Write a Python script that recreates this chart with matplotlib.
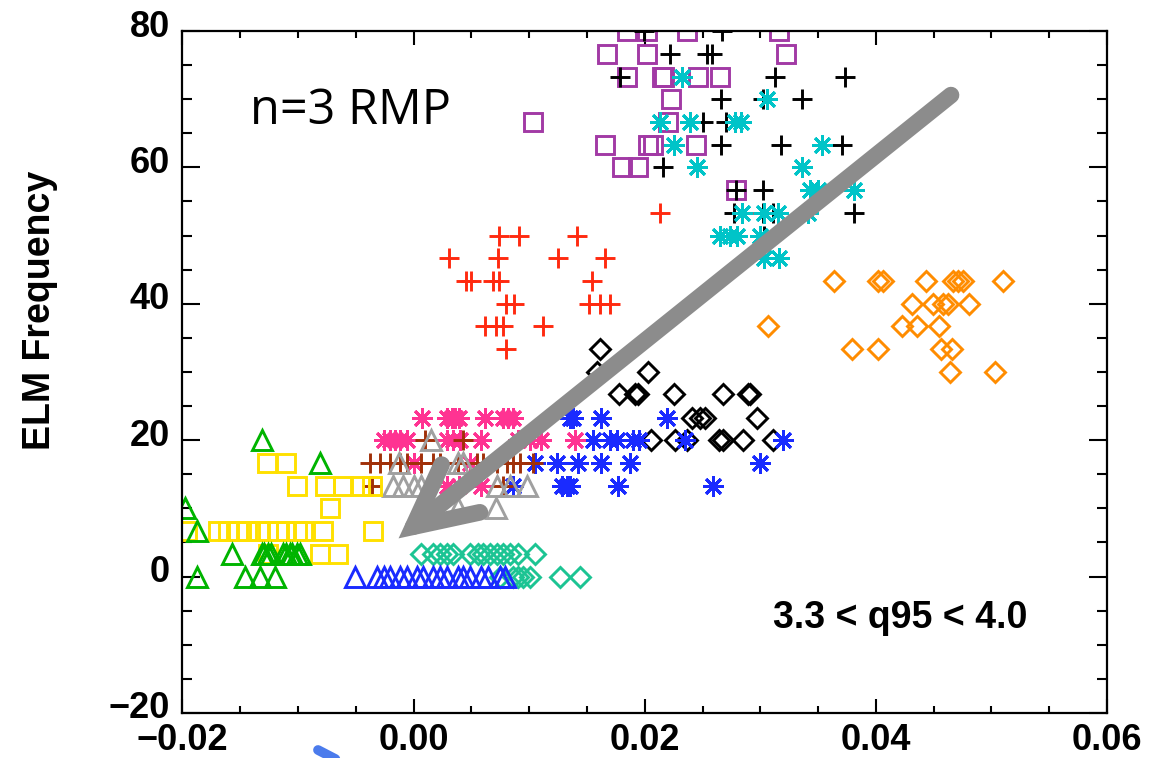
#!/usr/bin/env python3
"""
ELM frequency vs. scan parameter scatter, n=3 RMP, 3.3 < q95 < 4.0
"""

import matplotlib
matplotlib.use('Agg')
import matplotlib.pyplot as plt
import matplotlib.transforms as mtransforms
from matplotlib.lines import Line2D
from matplotlib.ticker import MultipleLocator

plt.rcParams['font.family'] = ['Liberation Sans', 'DejaVu Sans']
plt.rcParams['font.weight'] = 'bold'

# --- data ---
purple_sq_x = [0.0185, 0.0202, 0.0237, 0.0316, 0.0167, 0.0202, 0.0322, 0.0185, 0.0215, 0.0217,
               0.0246, 0.0265, 0.0223, 0.0103, 0.0220, 0.0166, 0.0203, 0.0207, 0.0244, 0.0180,
               0.0194, 0.0279]
purple_sq_y = [80, 80, 80, 80, 76.7, 76.7, 76.7, 73.3, 73.3, 73.3,
               73.3, 73.3, 70, 66.7, 66.7, 63.3, 63.3, 63.3, 63.3, 60,
               60, 56.7]

black_plus_x = [0.0199, 0.0267, 0.0222, 0.0254, 0.0258, 0.0179, 0.0313, 0.0373, 0.0266, 0.0302,
                0.0336, 0.0250, 0.0270, 0.0266, 0.0318, 0.0371, 0.0216, 0.0279, 0.0302, 0.0277,
                0.0302, 0.0311, 0.0381, 0.0303]
black_plus_y = [80, 80, 76.7, 76.7, 76.7, 73.3, 73.3, 73.3, 70, 70,
                70, 66.7, 66.7, 63.3, 63.3, 63.3, 60, 56.7, 56.7, 53.3,
                53.3, 53.3, 53.3, 50]

cyan_ast_x = [0.0232, 0.0306, 0.0213, 0.0239, 0.0278, 0.0283, 0.0225, 0.0353, 0.0245, 0.0336,
              0.0343, 0.0350, 0.0381, 0.0284, 0.0303, 0.0315, 0.0341, 0.0265, 0.0274, 0.0280,
              0.0300, 0.0303, 0.0316]
cyan_ast_y = [73.3, 70, 66.7, 66.7, 66.7, 66.7, 63.3, 63.3, 60, 60,
              56.7, 56.7, 56.7, 53.3, 53.3, 53.3, 53.3, 50, 50, 50,
              50, 46.7, 46.7]

red_plus_x = [0.0213, 0.0074, 0.0091, 0.0141, 0.0031, 0.0073, 0.0125, 0.0166, 0.0045, 0.0050,
              0.0069, 0.0074, 0.0154, 0.0080, 0.0087, 0.0152, 0.0161, 0.0170, 0.0062, 0.0071,
              0.0077, 0.0112, 0.0080]
red_plus_y = [53.3, 50, 50, 50, 46.7, 46.7, 46.7, 46.7, 43.3, 43.3,
              43.3, 43.3, 43.3, 40, 40, 40, 40, 40, 36.7, 36.7,
              36.7, 36.7, 33.3]

orange_dia_x = [0.0364, 0.0402, 0.0406, 0.0443, 0.0467, 0.0471, 0.0475, 0.0510, 0.0431, 0.0449,
                0.0458, 0.0462, 0.0481, 0.0307, 0.0423, 0.0436, 0.0455, 0.0379, 0.0402, 0.0456,
                0.0466, 0.0464, 0.0503]
orange_dia_y = [43.3, 43.3, 43.3, 43.3, 43.3, 43.3, 43.3, 43.3, 40, 40,
                40, 40, 40, 36.7, 36.7, 36.7, 36.7, 33.3, 33.3, 33.3,
                33.3, 30, 30]

black_dia_x = [0.0161, 0.0159, 0.0203, 0.0178, 0.0192, 0.0194, 0.0225, 0.0268, 0.0289, 0.0291,
               0.0241, 0.0248, 0.0252, 0.0297, 0.0205, 0.0226, 0.0237, 0.0264, 0.0268, 0.0285,
               0.0311]
black_dia_y = [33.3, 30, 30, 26.7, 26.7, 26.7, 26.7, 26.7, 26.7, 26.7,
               23.3, 23.3, 23.3, 23.3, 20, 20, 20, 20, 20, 20,
               20]

blue_ast_x = [0.0135, 0.0138, 0.0162, 0.0219, 0.0155, 0.0170, 0.0176, 0.0190, 0.0195, 0.0235,
              0.0320, 0.0105, 0.0124, 0.0142, 0.0162, 0.0187, 0.0300, 0.0086, 0.0128, 0.0133,
              0.0135, 0.0177, 0.0259]
blue_ast_y = [23.3, 23.3, 23.3, 23.3, 20, 20, 20, 20, 20, 20,
              20, 16.7, 16.7, 16.7, 16.7, 16.7, 16.7, 13.3, 13.3, 13.3,
              13.3, 13.3, 13.3]

pink_ast_x = [0.0007, 0.0029, 0.0033, 0.0036, 0.0039, 0.0062, 0.0077, 0.0082, 0.0086, -0.0026,
              -0.0020, -0.0016, -0.0012, -0.0006, 0.0029, 0.0034, 0.0040, 0.0058, 0.0090, 0.0101,
              0.0110, 0.0140, 0.0000, 0.0049, 0.0029, 0.0039, 0.0058]
pink_ast_y = [23.3, 23.3, 23.3, 23.3, 23.3, 23.3, 23.3, 23.3, 23.3, 20,
              20, 20, 20, 20, 20, 20, 20, 20, 20, 20,
              20, 20, 16.7, 16.7, 13.3, 13.3, 13.3]

brown_plus_x = [0.0010, 0.0043, -0.0038, -0.0029, -0.0020, -0.0012, -0.0006, 0.0006, 0.0017, 0.0023,
                0.0038, 0.0055, 0.0060, 0.0072, 0.0081, 0.0086, 0.0092, 0.0103, -0.0036, 0.0077]
brown_plus_y = [20, 20, 16.7, 16.7, 16.7, 16.7, 16.7, 16.7, 16.7, 16.7,
                16.7, 16.7, 16.7, 16.7, 16.7, 16.7, 16.7, 16.7, 13.3, 13.3]

gray_tri_x = [0.0015, -0.0013, 0.0038, 0.0043, -0.0018, -0.0009, 0.0000, 0.0006, 0.0072, 0.0083,
              0.0098, 0.0038, 0.0071]
gray_tri_y = [20, 16.7, 16.7, 16.7, 13.3, 13.3, 13.3, 13.3, 13.3, 13.3,
              13.3, 10, 10]

yellow_sq_x = [-0.0127, -0.0110, -0.0101, -0.0077, -0.0061, -0.0046, -0.0036, -0.0072, -0.0196, -0.0169,
               -0.0161, -0.0152, -0.0144, -0.0134, -0.0126, -0.0117, -0.0110, -0.0101, -0.0096, -0.0078,
               -0.0035, -0.0126, -0.0081, -0.0065]
yellow_sq_y = [16.7, 16.7, 13.3, 13.3, 13.3, 13.3, 13.3, 10, 6.7, 6.7,
               6.7, 6.7, 6.7, 6.7, 6.7, 6.7, 6.7, 6.7, 6.7, 6.7,
               6.7, 3.3, 3.3, 3.3]

green_tri_x = [-0.0131, -0.0081, -0.0198, -0.0187, -0.0157, -0.0131, -0.0129, -0.0126, -0.0123, -0.0113,
               -0.0110, -0.0107, -0.0105, -0.0101, -0.0098, -0.0187, -0.0146, -0.0133, -0.0120]
green_tri_y = [20, 16.7, 10, 6.7, 3.3, 3.3, 3.3, 3.3, 3.3, 3.3,
               3.3, 3.3, 3.3, 3.3, 3.3, 0, 0, 0, 0]

teal_dia_x = [0.0006, 0.0017, 0.0023, 0.0029, 0.0034, 0.0049, 0.0056, 0.0060, 0.0066, 0.0072,
              0.0077, 0.0083, 0.0090, 0.0105, 0.0075, 0.0086, 0.0090, 0.0095, 0.0101, 0.0127,
              0.0144]
teal_dia_y = [3.3, 3.3, 3.3, 3.3, 3.3, 3.3, 3.3, 3.3, 3.3, 3.3,
              3.3, 3.3, 3.3, 3.3, 0, 0, 0, 0, 0, 0,
              0]

blue_tri_x = [-0.0051, -0.0032, -0.0026, -0.0020, -0.0012, -0.0006, 0.0003, 0.0008, 0.0017, 0.0023,
              0.0029, 0.0038, 0.0043, 0.0049, 0.0058, 0.0064, 0.0075, 0.0079]
blue_tri_y = [0] * len(blue_tri_x)

# trend arrow (tail -> head) in data units
arrow_tail = (0.0465, 70.6)
arrow_head = (-0.0013, 5.6)

ASTERISK = (8, 2, 0)

# (x, y, marker, color, size)
series = [
    (purple_sq_x, purple_sq_y, 's', '#a23aa5', 13),
    (black_plus_x, black_plus_y, '+', 'black', 15),
    (cyan_ast_x, cyan_ast_y, ASTERISK, '#00c4c8', 15),
    (red_plus_x, red_plus_y, '+', '#ff2a10', 15),
    (orange_dia_x, orange_dia_y, 'D', '#ff8c00', 10.3),
    (black_dia_x, black_dia_y, 'D', 'black', 10.3),
    (blue_ast_x, blue_ast_y, ASTERISK, '#1a2bff', 15),
    (pink_ast_x, pink_ast_y, ASTERISK, '#ff3392', 15),
    (brown_plus_x, brown_plus_y, '+', '#a03008', 15),
    (gray_tri_x, gray_tri_y, '^', '#a0a0a0', 15),
    (yellow_sq_x, yellow_sq_y, 's', '#ffe000', 13),
    (green_tri_x, green_tri_y, '^', '#00b400', 15),
    (teal_dia_x, teal_dia_y, 'D', '#1cc493', 10.3),
    (blue_tri_x, blue_tri_y, '^', '#1a2bff', 15),
]


def create_chart():
    fig = plt.figure(figsize=(11.68, 7.58), dpi=100)
    ax = fig.add_axes([0.1562, 0.0594, 0.7916, 0.8997])

    for xs, ys, marker, color, size in series:
        ax.plot(xs, ys, linestyle='none', marker=marker, markersize=size,
                markerfacecolor='none', markeredgecolor=color, markeredgewidth=2.1)

    ax.set_xlim(-0.02, 0.06)
    ax.set_ylim(-20, 80)
    ax.xaxis.set_major_locator(MultipleLocator(0.02))
    ax.xaxis.set_minor_locator(MultipleLocator(0.005))
    ax.yaxis.set_major_locator(MultipleLocator(20))
    ax.yaxis.set_minor_locator(MultipleLocator(5))
    ax.xaxis.set_major_formatter(lambda v, pos: f'{v:.2f}'.replace('-', '\u2212'))

    for side in ax.spines.values():
        side.set_linewidth(1.6)
    ax.tick_params(which='both', direction='in', top=True, right=True, width=1.5,
                   labelsize=26)
    ax.tick_params(axis='x', which='major', length=10, pad=7)
    ax.tick_params(axis='x', which='minor', length=5)
    ax.tick_params(axis='y', which='major', length=13, pad=9)
    ax.tick_params(axis='y', which='minor', length=7)

    # y tick labels sit a little above their ticks in the original
    lift = mtransforms.ScaledTranslation(0, 8 / 100, fig.dpi_scale_trans)
    for lab in ax.get_yticklabels():
        lab.set_transform(lab.get_transform() + lift)

    fig.text(40 / 1168, 1 - 310 / 758, 'ELM Frequency', rotation=90,
             ha='center', va='center', fontsize=27, fontweight='bold')

    ax.text(-0.01416, 66.3, 'n=3 RMP', family=['Open Sans', 'DejaVu Sans'],
            fontweight='normal', fontsize=35, va='baseline')
    ax.text(0.0311, -7.5, '3.3 < q95 < 4.0', fontsize=27, fontweight='bold',
            va='baseline')

    # big grey arrow pointing down-left
    ax.annotate('', xy=arrow_head, xytext=arrow_tail,
                arrowprops=dict(arrowstyle='->,head_length=4.4,head_width=2.2',
                                mutation_scale=10, lw=12, color='#8c8c8c',
                                shrinkA=0, shrinkB=0, capstyle='round',
                                joinstyle='miter'), zorder=5)

    # stray blue mark at the bottom edge of the image
    fig.add_artist(Line2D([318 / 1168, 345 / 1168], [1 - 750 / 758, 1 - 764 / 758],
                          color='#4b7bec', lw=7, solid_capstyle='round'))

    fig.savefig('out.png', dpi=100)


if __name__ == '__main__':
    create_chart()
